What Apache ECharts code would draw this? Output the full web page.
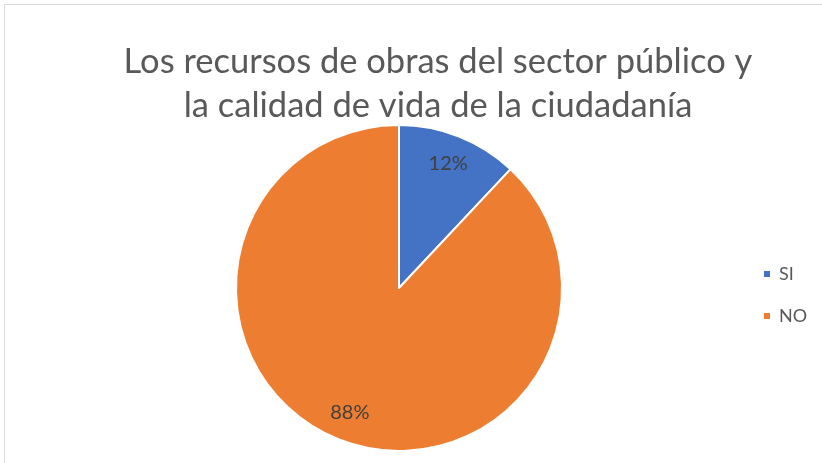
<!DOCTYPE html>
<html>
<head>
<meta charset="utf-8">
<script src="https://cdn.jsdelivr.net/npm/echarts@6/dist/echarts.min.js"></script>
<style>
  html, body { margin: 0; padding: 0; background: #fff; }
  #chart { width: 822px; height: 463px; }
</style>
</head>
<body>
<div id="chart"></div>
<script>
// datos
const categorias = ['SI', 'NO'];
const valores = [12, 88];
const colores = ['#4472C4', '#ED7D31'];
const titulo = 'Los recursos de obras del sector público y\nla calidad de vida de la ciudadanía';

const datos = categorias.map((c, i) => ({ name: c, value: valores[i], itemStyle: { color: colores[i] } }));

const chart = echarts.init(document.getElementById('chart'));
chart.setOption({
  animation: false,
  graphic: [{
    type: 'rect',
    shape: { x: 4.5, y: 4.5, width: 830, height: 470 },
    style: { fill: 'none', stroke: '#d9d9d9', lineWidth: 1 }
  }],
  title: {
    text: titulo,
    left: 433,
    top: 35,
    textAlign: 'center',
    textStyle: {
      fontFamily: 'Lato',
      fontSize: 34.5,
      fontWeight: 'normal',
      color: '#595959',
      lineHeight: 44
    }
  },
  legend: {
    orient: 'vertical',
    left: 757,
    top: 260,
    itemWidth: 8,
    itemHeight: 8,
    itemGap: 24,
    icon: 'rect',
    textStyle: { fontFamily: 'Lato', fontSize: 18, color: '#595959', padding: [0, 0, 0, 3] },
    data: categorias
  },
  series: [
    {
      type: 'pie',
      center: [399, 288],
      radius: [0, 163],
      startAngle: 90,
      clockwise: true,
      itemStyle: { borderColor: '#fff', borderWidth: 2 },
      label: { show: false },
      labelLine: { show: false },
      emphasis: { disabled: true },
      data: datos
    },
    {
      // serie invisible solo para ubicar las etiquetas a ~0.8 del radio
      type: 'pie',
      center: [399, 288],
      radius: [98, 163],
      startAngle: 90,
      clockwise: true,
      silent: true,
      itemStyle: { color: 'transparent', borderWidth: 0 },
      label: {
        show: true,
        position: 'inside',
        formatter: '{d}%',
        fontFamily: 'Lato',
        fontSize: 20,
        color: '#404040'
      },
      labelLine: { show: false },
      emphasis: { disabled: true },
      data: categorias.map((c, i) => ({ name: c, value: valores[i] }))
    }
  ]
});
</script>
</body>
</html>
